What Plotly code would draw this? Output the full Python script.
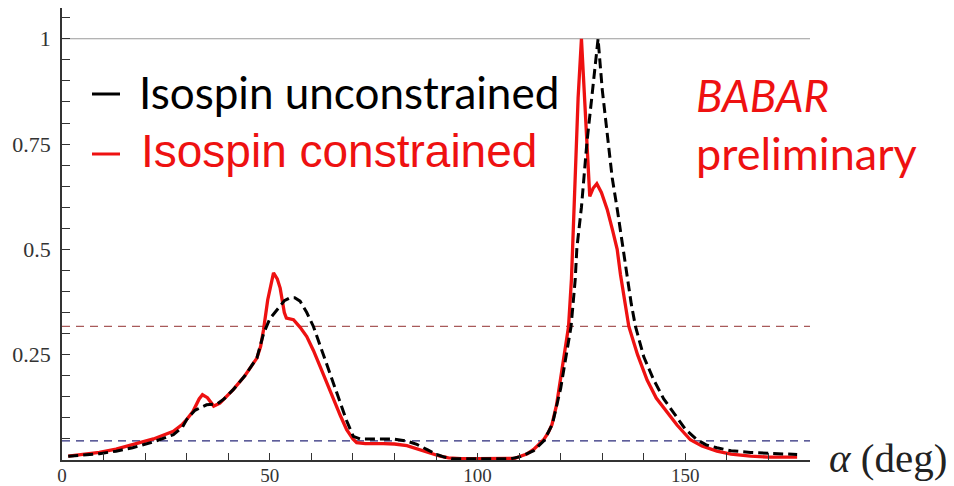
import plotly.graph_objects as go

# Scan in alpha (degrees): 1 - CL for the two fit configurations
alpha_constrained = [1.5, 5, 9, 13, 17, 22, 26.8, 29, 30, 31.5, 33, 33.8, 35, 36.5, 38, 41.2, 44,
                     46.9, 47.8, 48.5, 49.5, 50.9, 51.8, 52.5, 53.5, 54, 55.7, 57.3, 58.9, 60.5,
                     62.1, 63.7, 65.3, 67, 68.5, 70, 70.9, 73, 77.3, 80, 83, 85, 87, 89, 91, 93,
                     96, 100, 105, 109, 110.3, 112, 113.5, 115, 115.9, 117, 117.9, 119, 119.9,
                     121, 121.9, 122.6, 123.0, 123.5, 124.2, 125.0, 125.7, 126.4, 127.0, 127.8,
                     128.7, 129.8, 131.2, 132.5, 133.6, 134.4, 135.4, 136.4, 138.5, 140.8, 143,
                     145.6, 148, 151.2, 154, 157.6, 161, 165.7, 170, 176.9]
cl_constrained = [0.009, 0.013, 0.018, 0.026, 0.037, 0.050, 0.068, 0.085, 0.096, 0.115, 0.145,
                  0.155, 0.148, 0.128, 0.135, 0.167, 0.200, 0.242, 0.270, 0.309, 0.380, 0.444,
                  0.430, 0.408, 0.350, 0.337, 0.333, 0.315, 0.293, 0.260, 0.222, 0.183, 0.143,
                  0.105, 0.072, 0.050, 0.041, 0.039, 0.039, 0.038, 0.034, 0.028, 0.021, 0.014,
                  0.009, 0.005, 0.003, 0.003, 0.003, 0.004, 0.009, 0.015, 0.025, 0.038, 0.048,
                  0.065, 0.084, 0.130, 0.190, 0.260, 0.317, 0.430, 0.530, 0.700, 0.860, 1.000,
                  0.860, 0.720, 0.626, 0.645, 0.656, 0.635, 0.595, 0.545, 0.500, 0.440, 0.375,
                  0.317, 0.250, 0.190, 0.147, 0.112, 0.083, 0.048, 0.033, 0.021, 0.014, 0.009,
                  0.007, 0.007]

alpha_unconstrained = [1.5, 5, 9, 13, 17, 22, 26.8, 29, 30, 32, 34.8, 37.3, 39, 41.2, 44, 46.9,
                       48.5, 50, 51.7, 53.5, 54.9, 56, 57.3, 58.9, 60.5, 62, 63.7, 65.3, 66.9,
                       68.5, 70.1, 71.8, 75, 79.8, 83, 85.4, 88, 90.2, 92, 94, 100, 108, 110.3,
                       113.5, 116, 118, 120, 121.5, 122.5, 123.5, 123.9, 125, 126.3, 127.7,
                       129.0, 130, 131.2, 132.4, 133.7, 135, 136, 137, 138, 140, 142.4, 144.8,
                       147.2, 150, 152.8, 155, 157.6, 161, 165.7, 171, 176.9]
cl_unconstrained = [0.009, 0.011, 0.015, 0.021, 0.029, 0.043, 0.060, 0.078, 0.096, 0.118,
                    0.131, 0.133, 0.145, 0.167, 0.200, 0.242, 0.300, 0.335, 0.357, 0.378,
                    0.385, 0.385, 0.377, 0.350, 0.317, 0.275, 0.230, 0.180, 0.135, 0.093,
                    0.056, 0.050, 0.050, 0.050, 0.045, 0.037, 0.024, 0.013, 0.007, 0.003,
                    0.003, 0.003, 0.008, 0.022, 0.046, 0.085, 0.170, 0.260, 0.317, 0.428,
                    0.503, 0.600, 0.752, 0.880, 1.000, 0.880, 0.776, 0.670, 0.590, 0.500,
                    0.430, 0.370, 0.317, 0.245, 0.190, 0.145, 0.112, 0.073, 0.048, 0.036,
                    0.029, 0.022, 0.018, 0.015, 0.013]

# Reference levels: 1 sigma and 2 sigma (1 - CL), plus the unit level
level_1sigma = 0.3173
level_2sigma = 0.0455
level_one = 1.0

x_ticks = [0, 50, 100, 150]
y_ticks = [0.25, 0.5, 0.75, 1]
y_tick_text = ["0.25", "0.5", "0.75", "1"]

X_MAX = 180
Y_MAX = 1.073

W, H = 954, 486
ML, MR, MT, MB = 62, 144, 8, 26
PW, PH = W - ML - MR, H - MT - MB


def px(xp):
    return (xp - ML) / PW


def py(yp):
    return (H - MB - yp) / PH


fig = go.Figure()

fig.add_trace(go.Scatter(x=alpha_constrained, y=cl_constrained, mode="lines",
                         line=dict(color="#ee1111", width=3.3), showlegend=False,
                         name="Isospin constrained"))
fig.add_trace(go.Scatter(x=alpha_unconstrained, y=cl_unconstrained, mode="lines",
                         line=dict(color="#000000", width=3, dash="10px,5px"), showlegend=False,
                         name="Isospin unconstrained"))

fig.add_shape(type="line", xref="x", yref="y", x0=0, x1=X_MAX, y0=level_one, y1=level_one,
              line=dict(color="#9a9a9a", width=1.2), layer="below")
fig.add_shape(type="line", xref="x", yref="y", x0=0, x1=X_MAX, y0=level_1sigma, y1=level_1sigma,
              line=dict(color="#a85a5a", width=1.2, dash="8px,6px"), layer="below")
fig.add_shape(type="line", xref="x", yref="y", x0=0, x1=X_MAX, y0=level_2sigma, y1=level_2sigma,
              line=dict(color="#2a2a7a", width=1.2, dash="8px,6px"), layer="below")

# Key dashes in front of the two labels
fig.add_shape(type="line", xref="paper", yref="paper", x0=px(92), x1=px(120), y0=py(94), y1=py(94),
              line=dict(color="black", width=3))
fig.add_shape(type="line", xref="paper", yref="paper", x0=px(92), x1=px(120), y0=py(154), y1=py(154),
              line=dict(color="#ee1111", width=3))

annotations = [
    dict(text="Isospin unconstrained", x=px(137), y=py(92),
         font=dict(family="Lato", size=44, color="black"), xanchor="left", yanchor="middle"),
    dict(text="Isospin constrained", x=px(139), y=py(151),
         font=dict(family="Liberation Sans", size=46, color="#ee1111"), xanchor="left", yanchor="middle"),
    dict(text="<i>BABAR</i>", x=px(694), y=py(95),
         font=dict(family="Lato", size=44, color="#ee1111"), xanchor="left", yanchor="middle"),
    dict(text="preliminary", x=px(694), y=py(153),
         font=dict(family="Lato", size=45, color="#ee1111"), xanchor="left", yanchor="middle"),
    dict(text="<i>α</i> (deg)", x=px(827), y=py(458),
         font=dict(family="Liberation Serif", size=41, color="#222"), xanchor="left", yanchor="middle"),
]
for a in annotations:
    a.update(xref="paper", yref="paper", showarrow=False)

serif = "Liberation Serif, Times New Roman, serif"

fig.update_layout(
    width=W, height=H,
    margin=dict(l=ML, r=MR, t=MT, b=MB, autoexpand=False),
    paper_bgcolor="white", plot_bgcolor="white",
    annotations=annotations,
    xaxis=dict(range=[0, X_MAX], showgrid=False, zeroline=False, showline=True, automargin=False,
               linecolor="#333", linewidth=1.5, ticks="inside", ticklen=7, tickcolor="#333",
               tickwidth=1, tickmode="array", tickvals=x_ticks,
               tickfont=dict(family=serif, size=19, color="#333"), ticklabelstandoff=-3,
               minor=dict(tickmode="linear", tick0=0, dtick=10, ticks="inside", ticklen=7,
                          tickcolor="#333", tickwidth=1)),
    yaxis=dict(range=[0, Y_MAX], showgrid=False, zeroline=False, showline=True, automargin=False,
               linecolor="#333", linewidth=1.5, ticks="inside", ticklen=8, tickcolor="#333",
               tickwidth=1, tickmode="array", tickvals=y_ticks, ticktext=y_tick_text,
               tickfont=dict(family=serif, size=22, color="#333"), ticklabelstandoff=5,
               minor=dict(tickmode="linear", tick0=0, dtick=0.05, ticks="inside", ticklen=8,
                          tickcolor="#333", tickwidth=1)),
)

fig.write_html("out.html")
